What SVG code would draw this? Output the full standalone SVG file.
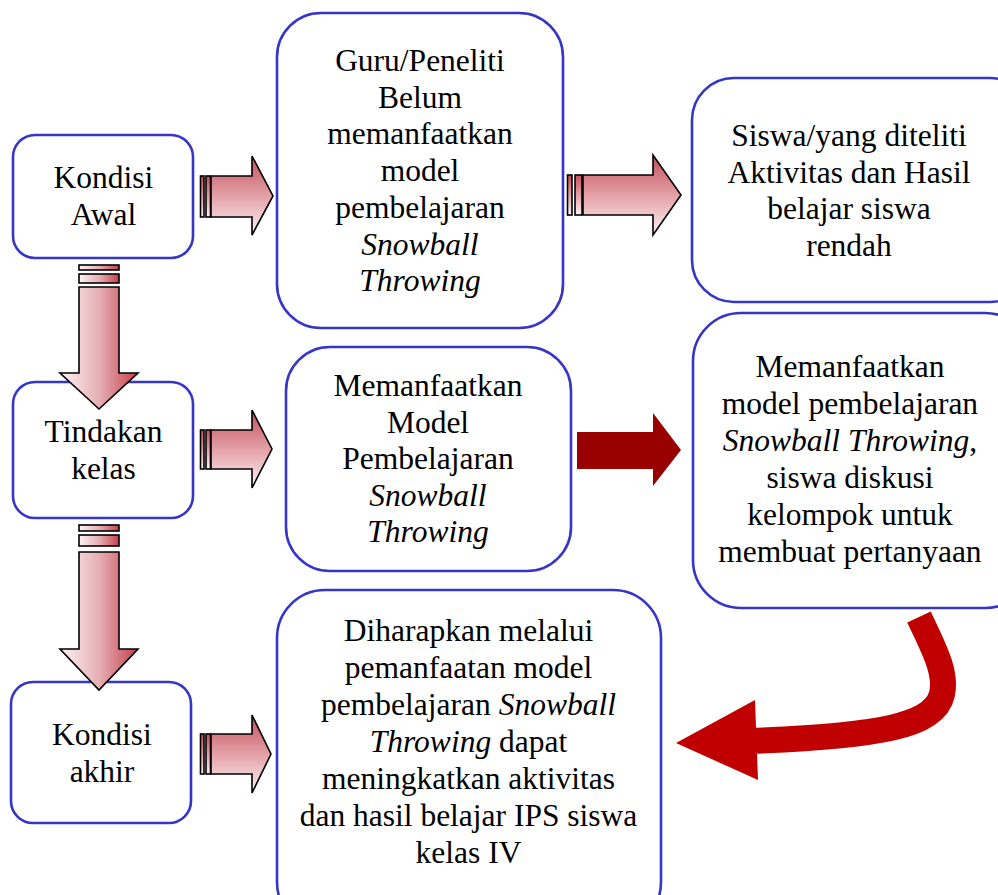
<svg xmlns="http://www.w3.org/2000/svg" width="998" height="895" viewBox="0 0 998 895">
<defs>
<linearGradient id="gh" x1="0" y1="0" x2="0" y2="1">
<stop offset="0" stop-color="#c4505c"/>
<stop offset="0.55" stop-color="#e6a8ae"/>
<stop offset="1" stop-color="#fdf3f4"/>
</linearGradient>
<linearGradient id="gv" x1="0" y1="0" x2="1" y2="0">
<stop offset="0" stop-color="#fdf3f4"/>
<stop offset="0.5" stop-color="#e6b0b5"/>
<stop offset="1" stop-color="#c4404c"/>
</linearGradient>
<style>
.box{fill:#fff;stroke:#3535c8;stroke-width:2.6}
.t{font-family:"Liberation Serif","Times New Roman",serif;font-size:31.5px;fill:#000;text-anchor:middle}
.i{font-style:italic}
.ah{fill:url(#gh);stroke:#000;stroke-width:1.6;stroke-linejoin:miter}
.av{fill:url(#gv);stroke:#000;stroke-width:1.6;stroke-linejoin:miter}
</style>
</defs>
<rect width="998" height="895" fill="#fff"/>

<g id="kondisi-awal">
<rect class="box" x="13" y="135" width="180" height="123" rx="22"/>
<text class="t" x="103.5" y="188">Kondisi</text>
<text class="t" x="103.5" y="225">Awal</text>
</g>
<g id="tindakan-kelas">
<rect class="box" x="13" y="382" width="180" height="136" rx="22"/>
<text class="t" x="103.5" y="442">Tindakan</text>
<text class="t" x="103.5" y="479">kelas</text>
</g>
<g id="kondisi-akhir">
<rect class="box" x="11" y="682" width="180" height="141" rx="22"/>
<text class="t" x="102" y="745">Kondisi</text>
<text class="t" x="102" y="782">akhir</text>
</g>
<g id="guru">
<rect class="box" x="277" y="13" width="286" height="315" rx="44"/>
<text class="t" x="420" y="71">Guru/Peneliti</text>
<text class="t" x="420" y="107.7">Belum</text>
<text class="t" x="420" y="144.4">memanfaatkan</text>
<text class="t" x="420" y="181.1">model</text>
<text class="t" x="420" y="217.8">pembelajaran</text>
<text class="t i" x="420" y="254.5">Snowball</text>
<text class="t i" x="420" y="291.2">Throwing</text>
</g>
<g id="memanfaatkan-model">
<rect class="box" x="286" y="347" width="285" height="224" rx="44"/>
<text class="t" x="428" y="396">Memanfaatkan</text>
<text class="t" x="428" y="432.6">Model</text>
<text class="t" x="428" y="469.2">Pembelajaran</text>
<text class="t i" x="428" y="505.8">Snowball</text>
<text class="t i" x="428" y="542.4">Throwing</text>
</g>
<g id="diharapkan">
<rect class="box" x="277" y="590" width="384" height="340" rx="48"/>
<text class="t" x="468.5" y="641">Diharapkan melalui</text>
<text class="t" x="468.5" y="678">pemanfaatan model</text>
<text class="t" x="468.5" y="715">pembelajaran <tspan class="i">Snowball</tspan></text>
<text class="t" x="468.5" y="752"><tspan class="i">Throwing</tspan> dapat</text>
<text class="t" x="468.5" y="789">meningkatkan aktivitas</text>
<text class="t" x="468.5" y="826">dan hasil belajar IPS siswa</text>
<text class="t" x="468.5" y="863">kelas IV</text>
</g>
<g id="siswa">
<rect class="box" x="692" y="78" width="340" height="224" rx="42"/>
<text class="t" x="849" y="146">Siswa/yang diteliti</text>
<text class="t" x="849" y="182.5">Aktivitas dan Hasil</text>
<text class="t" x="849" y="219">belajar siswa</text>
<text class="t" x="849" y="255.5">rendah</text>
</g>
<g id="memanfaatkan-diskusi">
<rect class="box" x="693" y="313" width="340" height="295" rx="48"/>
<text class="t" x="850" y="377">Memanfaatkan</text>
<text class="t" x="850" y="414">model pembelajaran</text>
<text class="t" x="850" y="451"><tspan class="i">Snowball Throwing</tspan>,</text>
<text class="t" x="850" y="488">siswa diskusi</text>
<text class="t" x="850" y="525">kelompok untuk</text>
<text class="t" x="850" y="562">membuat pertanyaan</text>
</g>

<g id="connectors">
<!-- Kondisi Awal -> Guru -->
<g>
<rect class="ah" x="200.5" y="176" width="3.5" height="41"/>
<rect class="ah" x="206" y="176" width="4.5" height="41"/>
<polygon class="ah" points="211,176 252,176 252,156 273,196 252,235 252,217 211,217"/>
</g>
<!-- Guru -> Siswa -->
<g>
<rect class="ah" x="567.5" y="175" width="4.5" height="40"/>
<rect class="ah" x="575" y="175" width="7" height="40"/>
<polygon class="ah" points="583,175 653,175 653,155 681,195 653,235 653,215 583,215"/>
</g>
<!-- Tindakan -> Memanfaatkan Model -->
<g>
<rect class="ah" x="200.5" y="430" width="3.5" height="39"/>
<rect class="ah" x="206" y="430" width="4.5" height="39"/>
<polygon class="ah" points="211,430 252,430 252,410 272,449 252,488 252,469 211,469"/>
</g>
<!-- Kondisi akhir -> Diharapkan -->
<g>
<rect class="ah" x="200.5" y="734" width="3.5" height="40"/>
<rect class="ah" x="206" y="734" width="4.5" height="40"/>
<polygon class="ah" points="211,734 252,734 252,715 271,754 252,793 252,774 211,774"/>
</g>
<!-- Kondisi Awal -> Tindakan -->
<g>
<rect class="av" x="79" y="265" width="40" height="5"/>
<rect class="av" x="79" y="274" width="40" height="9"/>
<polygon class="av" points="79,287 119,287 119,373 138,373 99,409 60,373 79,373"/>
</g>
<!-- Tindakan -> Kondisi akhir -->
<g>
<rect class="av" x="79" y="525" width="40" height="6"/>
<rect class="av" x="79" y="535" width="40" height="11"/>
<polygon class="av" points="79,552 119,552 119,649 138,649 99,690 60,649 79,649"/>
</g>
<!-- Memanfaatkan Model -> diskusi -->
<polygon fill="#990000" points="577,432 653,432 653,413 681,450 653,486 653,469 577,469"/>
<!-- diskusi -> Diharapkan (curved) -->
<path d="M919 617 C933 647 947 672 942 694 C935 726 880 736 750 741" fill="none" stroke="#c00000" stroke-width="26"/>
<polygon fill="#c00000" points="755,700 758,780 676,743"/>
</g>
</svg>
